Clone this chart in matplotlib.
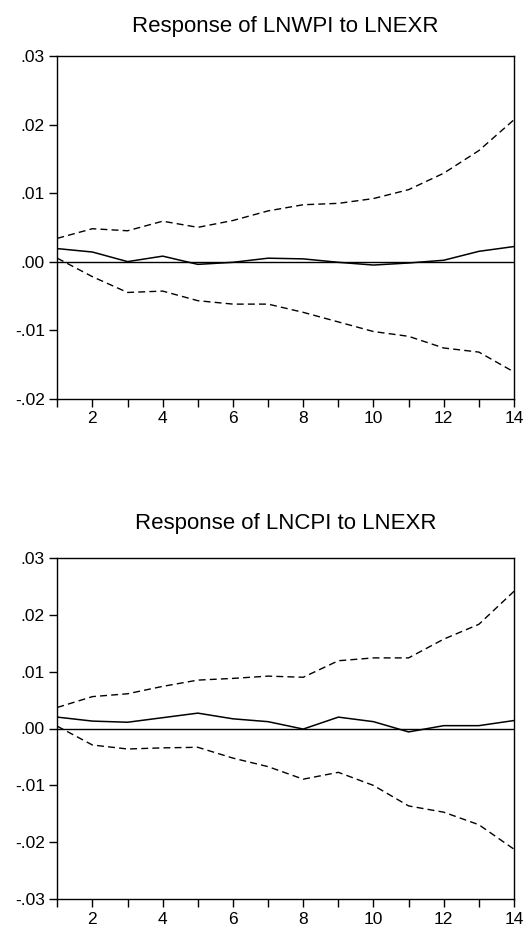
import matplotlib
matplotlib.use("Agg")
import matplotlib.pyplot as plt

periods = list(range(1, 15))

# Response of LNWPI to LNEXR
wpi_resp = [0.0019, 0.0014, 0.0000, 0.0008, -0.0004, -0.0001, 0.0005, 0.0004,
            -0.0001, -0.0005, -0.0002, 0.0002, 0.0015, 0.0022]
wpi_upper = [0.0034, 0.0048, 0.0045, 0.0059, 0.0050, 0.0060, 0.0074, 0.0083,
             0.0085, 0.0092, 0.0105, 0.0129, 0.0162, 0.0207]
wpi_lower = [0.0005, -0.0022, -0.0045, -0.0043, -0.0057, -0.0062, -0.0062, -0.0074,
             -0.0088, -0.0102, -0.0109, -0.0126, -0.0132, -0.0161]

# Response of LNCPI to LNEXR
cpi_resp = [0.0020, 0.0013, 0.0011, 0.0019, 0.0027, 0.0017, 0.0012, -0.0001,
            0.0020, 0.0012, -0.0006, 0.0005, 0.0005, 0.0014]
cpi_upper = [0.0037, 0.0056, 0.0061, 0.0074, 0.0085, 0.0088, 0.0092, 0.0090,
             0.0119, 0.0124, 0.0124, 0.0157, 0.0183, 0.0241]
cpi_lower = [0.0004, -0.0029, -0.0036, -0.0034, -0.0033, -0.0052, -0.0067, -0.0089,
             -0.0077, -0.0100, -0.0136, -0.0147, -0.0169, -0.0212]

titles = ["Response of LNWPI to LNEXR", "Response of LNCPI to LNEXR"]
yticks_top = [-0.02, -0.01, 0.00, 0.01, 0.02, 0.03]
yticks_bot = [-0.03, -0.02, -0.01, 0.00, 0.01, 0.02, 0.03]
xticks_major = [2, 4, 6, 8, 10, 12, 14]

plt.rcParams['font.family'] = ['Liberation Sans', 'DejaVu Sans']

W, H = 527, 931
fig = plt.figure(figsize=(W / 100, H / 100), dpi=100)

def fmt(v):
    s = "%.2f" % v
    s = s.replace("0.", ".")
    if s == "-.00":
        s = ".00"
    return s

panels = [
    (56, 398.7, wpi_resp, wpi_upper, wpi_lower, yticks_top, titles[0], 17.5),
    (557.7, 899.3, cpi_resp, cpi_upper, cpi_lower, yticks_bot, titles[1], 20.7),
]
left, right = 57.3, 514
for top, bottom, resp, up, lo, yt, title, tpad in panels:
    ax = fig.add_axes([left / W, 1 - bottom / H, (right - left) / W, (bottom - top) / H])
    ax.axhline(0, color='black', lw=1.0)
    ax.plot(periods, up, color='black', lw=1.0, ls=(0, (5, 3)))
    ax.plot(periods, lo, color='black', lw=1.0, ls=(0, (5, 3)))
    ax.plot(periods, resp, color='black', lw=1.1)
    ax.set_xlim(1, 14)
    ax.set_ylim(yt[0], yt[-1])
    ax.set_yticks(yt)
    ax.set_yticklabels([fmt(v) for v in yt])
    ax.set_xticks(xticks_major)
    ax.set_xticks(periods, minor=True)
    ax.tick_params(axis='both', direction='out', labelsize=12.5, colors='black')
    ax.tick_params(axis='y', length=6, width=1, pad=3)
    ax.tick_params(axis='x', which='both', length=6, width=1, pad=3)
    for s in ax.spines.values():
        s.set_linewidth(1.0)
    ax.set_title(title, fontsize=16, pad=tpad)

fig.savefig("out.png", dpi=100)
